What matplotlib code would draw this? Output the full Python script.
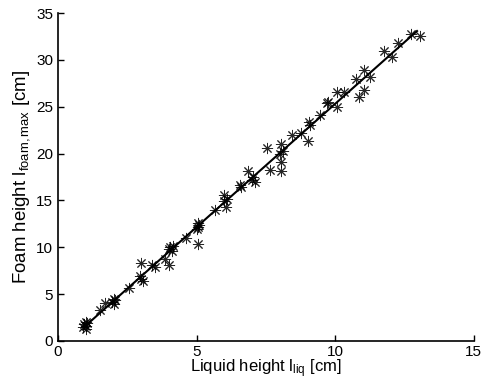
import numpy as np
import matplotlib
matplotlib.use('Agg')
import matplotlib.pyplot as plt

# measured points: liquid height [cm] vs maximum foam height [cm]
liquid = [0.9, 0.95, 1.0, 1.0, 1.0, 1.05, 1.5, 1.7, 1.95, 2.0, 2.0, 2.05,
          2.55, 3.0, 2.95, 3.0, 3.05, 3.4, 3.5, 3.85, 4.0, 4.0, 4.05, 4.1,
          4.15, 4.6, 5.0, 5.05, 5.05, 5.1, 5.05, 5.65, 6.0, 6.0, 6.05, 6.1,
          6.55, 6.6, 6.85, 7.0, 7.05, 7.1, 7.55, 7.65, 8.0, 8.05, 8.05, 8.1,
          8.05, 8.45, 8.75, 9.0, 9.05, 9.1, 9.45, 9.7, 9.75, 10.05, 10.05,
          10.3, 10.75, 10.85, 11.05, 11.05, 11.25, 11.75, 12.05, 12.25,
          12.75, 13.05]
foam = [1.5, 1.8, 1.6, 2.0, 1.3, 1.9, 3.3, 4.1, 4.2, 4.5, 3.9, 4.4,
        5.7, 6.6, 6.9, 8.3, 6.4, 8.1, 7.9, 8.8, 8.1, 9.8, 10.0, 9.6,
        10.1, 11.0, 11.9, 12.2, 12.6, 12.4, 10.4, 14.0, 14.9, 15.6, 14.3, 15.2,
        16.6, 16.4, 18.1, 17.2, 17.5, 17.0, 20.6, 18.2, 20.0, 19.1, 18.1, 20.3,
        21.0, 22.0, 22.2, 21.3, 23.4, 23.1, 24.1, 25.4, 25.5, 25.0, 26.6,
        26.6, 28.0, 26.1, 28.9, 26.8, 28.2, 31.0, 30.3, 31.8,
        32.8, 32.6]
# end points of the drawn fit line
fit_range = [0.92, 12.95]

plt.rcParams['font.family'] = ['Liberation Sans', 'DejaVu Sans']
plt.rcParams['mathtext.fontset'] = 'custom'
plt.rcParams['mathtext.rm'] = 'Liberation Sans'
plt.rcParams['mathtext.it'] = 'Liberation Sans'

x = np.array(liquid)
y = np.array(foam)
coef = np.polyfit(x, y, 1)
xfit = np.array(fit_range)

fig = plt.figure(figsize=(4.84, 3.87), dpi=100)
ax = fig.add_axes([0.12, 0.119, 0.859, 0.847])

ax.plot(x, y, linestyle='none', marker=(8, 2, 0), markersize=8,
        markeredgewidth=0.7, color='black', alpha=0.85)
ax.plot(xfit, np.polyval(coef, xfit), color='black', linewidth=1.5)

ax.set_xlim(0, 15)
ax.set_ylim(0, 35)
ax.set_xticks([0, 5, 10, 15])
ax.set_yticks(np.arange(0, 36, 5))
ax.spines['top'].set_visible(False)
ax.spines['right'].set_visible(False)
ax.spines['left'].set_linewidth(1.2)
ax.spines['bottom'].set_linewidth(1.2)
ax.tick_params(direction='in', labelsize=11, length=4, width=1)
ax.tick_params(axis='x', pad=3)
ax.tick_params(axis='y', pad=3.5)

ax.set_xlabel('Liquid height l$_{\\mathregular{liq}}$ [cm]', fontsize=12,
              labelpad=-1)
ax.set_ylabel('Foam height l$_{\\mathregular{foam,max}}$ [cm]', fontsize=13.4,
              labelpad=3)

fig.savefig('out.png', dpi=100)
